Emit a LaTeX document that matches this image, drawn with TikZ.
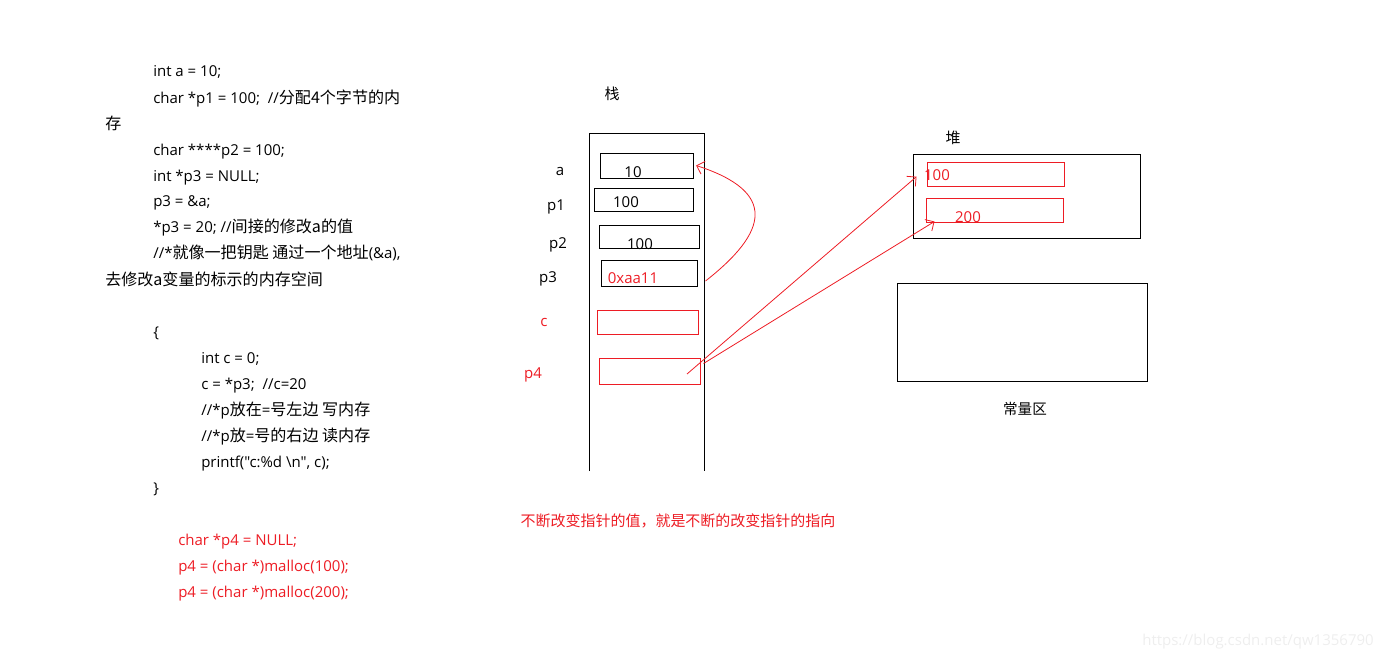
\documentclass[tikz,border=0pt]{standalone}
\usepackage{fontspec}
\setmainfont{Open Sans}[Ligatures=TeXOff]
\newfontfamily\cjk{Noto Sans CJK SC}[Scale=1.07]
\usetikzlibrary{arrows.meta,positioning,calc}
\definecolor{memred}{HTML}{ED1C24}
\definecolor{wmgray}{HTML}{EEEEEE}

\begin{document}
\begin{tikzpicture}[x=0.75pt,y=-0.75pt,every node/.style={font=\fontsize{11.25}{13}\selectfont,inner sep=0pt},
  code/.style={anchor=base west},
  cell/.style={draw,line width=0.75pt},
  ptr/.style={memred,line width=0.6pt,-{Straight Barb[length=5pt,width=10pt]}}]
\useasboundingbox (0,0) rectangle (1382,661);
% code on the left
\node[code] (c1) at (153,76) {int a = 10;};
\node[code] (c2) at (153,103) {char *p1 = 100;\ \ //{\cjk 分配4个字节的内}};
\node[code] (c3) at (105,129) {{\cjk 存}};
\node[code] (c4) at (153,155) {char ****p2 = 100;};
\node[code] (c5) at (153,181) {int *p3 = NULL;};
\node[code] (c6) at (153,206) {p3 = \&a;};
\node[code] (c7) at (153,232) {*p3 = 20; //{\cjk 间接的修改a的值}};
\node[code] (c8) at (153,258) {//*{\cjk 就像一把钥匙 通过一个地址}(\&a),};
\node[code] (c9) at (105,285) {{\cjk 去修改a变量的标示的内存空间}};
\node[code] (c10) at (153,337) {\{};
\node[code] (c11) at (201,363) {int c = 0;};
\node[code] (c12) at (201,389) {c = *p3;\ \ //c=20};
\node[code] (c13) at (201,415) {//*p{\cjk 放在}={\cjk 号左边 写内存}};
\node[code] (c14) at (201,441) {//*p{\cjk 放}={\cjk 号的右边 读内存}};
\node[code] (c15) at (201,467) {printf("c:\%d \textbackslash n", c);};
\node[code] (c16) at (153,493) {\}};
\node[code,memred] (c17) at (178,545) {char *p4 = NULL;};
\node[code,memred] (c18) at (178,571) {p4 = (char *)malloc(100);};
\node[code,memred] (c19) at (178,597) {p4 = (char *)malloc(200);};
% stack
\node (stack) at (612,94) {\fontsize{10.5}{12}\selectfont\cjk 栈};
\draw[line width=0.75pt] (589,471) |- (704,133) -- (704,471);
\node[cell,minimum width=69.75pt,minimum height=18.75pt] (sa) at (646.5,165.5) {};
\node[cell,minimum width=74.25pt,minimum height=17.25pt] (sp1) at (643.5,199.5) {};
\node[cell,minimum width=75pt,minimum height=17.25pt] (sp2) at (649,236.5) {};
\node[cell,minimum width=72pt,minimum height=19.5pt] (sp3) at (649,273) {};
\node[cell,draw=memred,minimum width=75.75pt,minimum height=18pt] (sc) at (647.5,322) {};
\node[cell,draw=memred,minimum width=75.75pt,minimum height=19.5pt] (sp4) at (649.5,371) {};
\node (va) at (633,172) {10};
\node (vp1) at (626,202) {100};
\node (vp2) at (640,244) {100};
\node[memred] (vp3) at (633,278) {0xaa11};
\node (la) at (560,171) {a};
\node (lp1) at (556,207) {p1};
\node (lp2) at (558,245) {p2};
\node (lp3) at (548,279) {p3};
\node[memred] (lc) at (544,322) {c};
\node[memred] (lp4) at (533,375) {p4};
% heap
\node (heaplbl) at (953,138) {\fontsize{10.5}{12}\selectfont\cjk 堆};
\node[cell,minimum width=170.25pt,minimum height=63pt] (heap) at (1026.5,196) {};
\node[cell,draw=memred,minimum width=102.75pt,minimum height=18pt] (h100) at (995.5,174) {};
\node[cell,draw=memred,minimum width=102.75pt,minimum height=18pt] (h200) at (994.5,210) {};
\node[memred] (vh100) at (937,175) {100};
\node[memred] (vh200) at (968,217) {200};
% constants
\node[cell,minimum width=187.5pt,minimum height=73.5pt] (const) at (1022,332) {};
\node (constlbl) at (1025,409) {\fontsize{10.2}{12}\selectfont\cjk 常量区};
% pointers
\coordinate (p4in) at (687,374);
\draw[ptr] ($(sp3.east)+(8,8)$) .. controls (768,232) and (778,192) .. ([xshift=2pt]sa.east);
\draw[ptr] (p4in) -- ([xshift=-7.5pt,yshift=-2pt]h100.west);
\draw[ptr] ($(sp4.north east)+(3,6)$) -- ($(h200.south west)+(9,-1)$);
\node[memred] (note) at (678,521) {\fontsize{10.5}{12}\selectfont\cjk 不断改变指针的值，就是不断的改变指针的指向};
\node[wmgray] (wm) at (1258,642) {https://blog.csdn.net/qw1356790};
\end{tikzpicture}
\end{document}
